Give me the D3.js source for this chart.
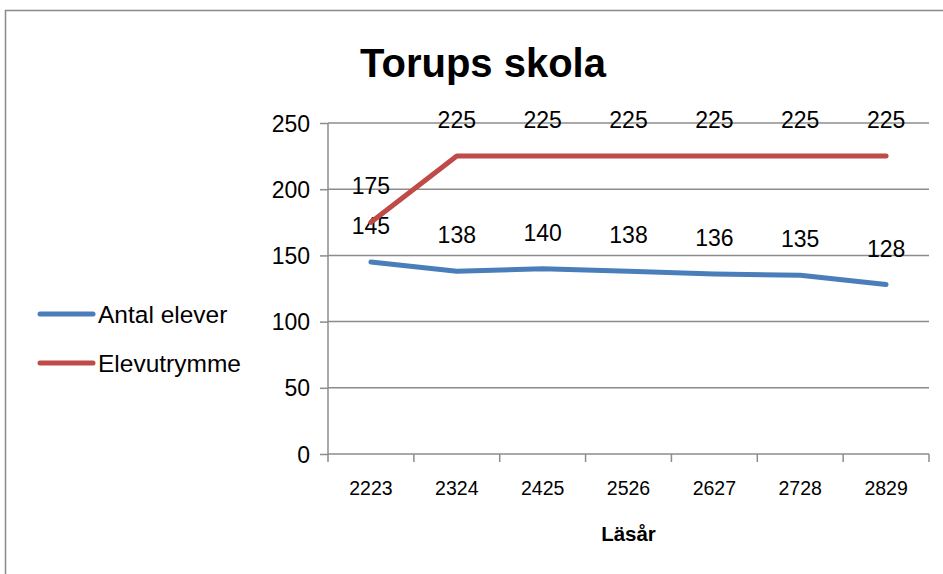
<!DOCTYPE html>
<html>
<head>
<meta charset="utf-8">
<title>Torups skola</title>
<script src="https://d3js.org/d3.v7.min.js"></script>
<style>
  body { margin: 0; background: #fff; }
  text { font-family: "Liberation Sans", Arial, sans-serif; fill: #000; }
</style>
</head>
<body>
<div id="output"></div>
<script>
var years = ["2223", "2324", "2425", "2526", "2627", "2728", "2829"];
var antalElever = [145, 138, 140, 138, 136, 135, 128];
var elevutrymme = [175, 225, 225, 225, 225, 225, 225];
var yTicks = [0, 50, 100, 150, 200, 250];

var series = [
  {name: "Antal elever", values: antalElever, color: "#4a7ebb"},
  {name: "Elevutrymme", values: elevutrymme, color: "#be4b48"}
];

var w = 943, h = 574;
var margin = {top: 123, left: 328, right: 14, bottom: 120};
var wChart = w - margin.left - margin.right;
var hChart = h - margin.top - margin.bottom;

var svg = d3.select("#output").append("svg")
    .attr("width", w)
    .attr("height", h);

// outer chart frame
svg.append("rect")
    .attr("x", 5.5).attr("y", 10.5)
    .attr("width", 960).attr("height", 600)
    .attr("fill", "none")
    .attr("stroke", "#898989")
    .attr("stroke-width", 1.5);

svg.append("text")
    .attr("x", 483).attr("y", 77)
    .attr("text-anchor", "middle")
    .style("font-size", "40px")
    .style("font-weight", "bold")
    .text("Torups skola");

var x = d3.scaleBand().domain(years).range([0, wChart]);
var y = d3.scaleLinear().domain([0, 250]).range([hChart, 0]);

var chart = svg.append("g")
    .attr("transform", "translate(" + margin.left + "," + margin.top + ")");

// gridlines
chart.selectAll(".grid")
    .data(yTicks.slice(1))
    .enter().append("line")
    .attr("x1", 0).attr("x2", wChart)
    .attr("y1", function(d) { return y(d); })
    .attr("y2", function(d) { return y(d); })
    .attr("stroke", "#8c8c8c")
    .attr("stroke-width", 1.5);

var yAxis = d3.axisLeft(y).tickValues(yTicks).tickSize(8).tickPadding(10);
var gy = chart.append("g").call(yAxis);
gy.select(".domain").attr("stroke", "#8c8c8c").attr("stroke-width", 1.5).attr("d", "M0,0V" + hChart);
gy.selectAll(".tick line").attr("stroke", "#8c8c8c").attr("stroke-width", 1.5);
gy.selectAll(".tick text").style("font-size", "23px").attr("dy", "0.35em");

var xAxis = d3.axisBottom(x).tickSize(0).tickPadding(27);
var gx = chart.append("g")
    .attr("transform", "translate(0," + hChart + ")")
    .call(xAxis);
gx.select(".domain").attr("stroke", "#8c8c8c").attr("stroke-width", 1.5).attr("d", "M0,0H" + wChart);
gx.selectAll(".tick text").style("font-size", "19.5px");

// category boundary ticks
var bounds = years.map(function(d) { return x(d); }).concat([wChart]);
gx.selectAll(".btick")
    .data(bounds)
    .enter().append("line")
    .attr("x1", function(d) { return d; })
    .attr("x2", function(d) { return d; })
    .attr("y1", 0).attr("y2", 8)
    .attr("stroke", "#8c8c8c")
    .attr("stroke-width", 1.5);

svg.append("text")
    .attr("x", margin.left + wChart / 2).attr("y", 541)
    .attr("text-anchor", "middle")
    .style("font-size", "20.5px")
    .style("font-weight", "bold")
    .text("Läsår");

var line = d3.line()
    .x(function(d, i) { return x(years[i]) + x.bandwidth() / 2; })
    .y(function(d) { return y(d); });

series.forEach(function(s) {
  chart.append("path")
      .datum(s.values)
      .attr("d", line)
      .attr("fill", "none")
      .attr("stroke", s.color)
      .attr("stroke-width", 5)
      .attr("stroke-linecap", "round")
      .attr("stroke-linejoin", "round");

  chart.selectAll(null)
      .data(s.values)
      .enter().append("text")
      .attr("x", function(d, i) { return x(years[i]) + x.bandwidth() / 2; })
      .attr("y", function(d) { return y(d) - 36; })
      .attr("dy", "0.35em")
      .attr("text-anchor", "middle")
      .style("font-size", "23px")
      .text(function(d) { return d; });
});

// legend
var legend = svg.selectAll(".legend")
    .data(series)
    .enter().append("g")
    .attr("transform", function(d, i) { return "translate(40," + (314 + i * 49) + ")"; });

legend.append("line")
    .attr("x1", 0).attr("x2", 53)
    .attr("stroke", function(d) { return d.color; })
    .attr("stroke-width", 5)
    .attr("stroke-linecap", "round");

legend.append("text")
    .attr("x", 58).attr("dy", "0.35em")
    .style("font-size", "24.5px")
    .text(function(d) { return d.name; });
</script>
</body>
</html>
